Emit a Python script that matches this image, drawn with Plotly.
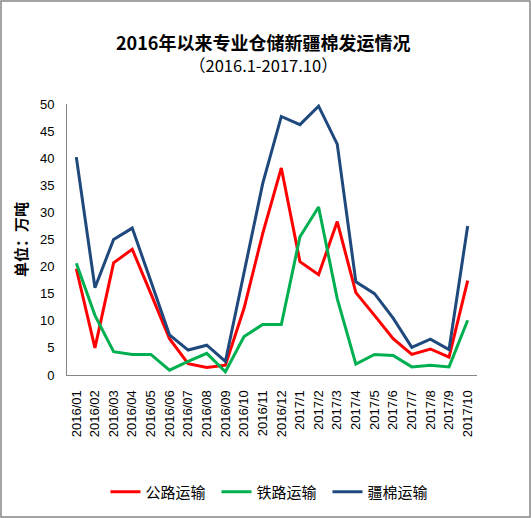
import plotly.graph_objects as go

categories = ["2016/01","2016/02","2016/03","2016/04","2016/05","2016/06","2016/07","2016/08",
              "2016/09","2016/10","2016/11","2016/12","2017/1","2017/2","2017/3","2017/4",
              "2017/5","2017/6","2017/7","2017/8","2017/9","2017/10"]
road = [19.6, 5.0, 20.7, 23.2, 15.0, 6.7, 2.1, 1.4, 1.8, 12.3, 26.1, 38.2,
        20.9, 18.5, 28.3, 15.2, 11.0, 6.7, 3.8, 4.8, 3.3, 17.4]
rail = [20.6, 11.0, 4.3, 3.8, 3.8, 0.9, 2.5, 4.0, 0.6, 7.1, 9.3, 9.3,
        25.5, 31.0, 14.1, 2.0, 3.8, 3.6, 1.5, 1.8, 1.5, 10.1]
total = [40.2, 16.1, 25.0, 27.1, 17.3, 7.4, 4.6, 5.5, 2.5, 19.0, 35.3, 47.7,
         46.2, 49.6, 42.6, 17.2, 15.0, 10.5, 5.1, 6.6, 4.7, 27.5]
series_names = ["公路运输", "铁路运输", "疆棉运输"]
colors = ["#FF0000", "#00B050", "#1F497D"]

W, H = 531, 518
L, R, T, B = 67, 54, 104, 143
pw, ph = W - L - R, H - T - B

def px_x(x):
    return (x - L) / pw

def px_y(y):
    return (H - B - y) / ph

fig = go.Figure()
for name, vals, c in zip(series_names, [road, rail, total], colors):
    fig.add_trace(go.Scatter(x=categories, y=vals, mode="lines", name=name,
                             line=dict(color=c, width=3)))

tick_font = dict(family="Liberation Sans, Arial", size=13, color="#000000")
cjk = "Noto Sans CJK SC"
fig.update_layout(
    width=W, height=H,
    margin=dict(l=L, r=R, t=T, b=B, autoexpand=False),
    paper_bgcolor="white", plot_bgcolor="white",
    showlegend=True,
    legend=dict(orientation="h", x=px_x(272), xanchor="center",
                y=px_y(492), yanchor="middle", bgcolor="rgba(0,0,0,0)",
                font=dict(family=cjk, size=15, color="#000"),
                itemwidth=30, entrywidth=66),
    xaxis=dict(type="category", tickangle=-90, tickfont=tick_font,
               showline=True, linecolor="#868686", linewidth=1, automargin=False,
               showgrid=False, ticks="outside", ticklen=9, tickcolor="rgba(0,0,0,0)",
               range=[-0.5, len(categories) - 0.5]),
    yaxis=dict(range=[0, 50], dtick=5, tickfont=tick_font, automargin=False,
               showline=True, linecolor="#868686", linewidth=1,
               showgrid=False, ticks="outside", ticklen=9, tickcolor="rgba(0,0,0,0)",
               zeroline=False),
    annotations=[
        dict(text="<b>2016年以来专业仓储新疆棉发运情况</b>", xref="paper", yref="paper",
             x=px_x(263), y=px_y(42), yanchor="middle", showarrow=False,
             font=dict(family=cjk, size=18, color="#000")),
        dict(text="（2016.1-2017.10）", xref="paper", yref="paper",
             x=px_x(263), y=px_y(65), yanchor="middle", showarrow=False,
             font=dict(family=cjk, size=16.5, color="#000")),
        dict(text="<b>单位：万吨</b>", xref="paper", yref="paper", textangle=-90,
             x=px_x(20), y=px_y(240), xanchor="center", yanchor="middle", showarrow=False,
             font=dict(family=cjk, size=15, color="#000")),
    ],
    shapes=[dict(type="rect", xref="paper", yref="paper",
                 x0=px_x(1), x1=px_x(W - 1),
                 y0=px_y(H - 1), y1=px_y(1),
                 line=dict(color="#868686", width=1.5))],
)
fig.write_html("out.html", config={"displayModeBar": False},
               post_script="document.body.style.margin='0';document.body.style.overflow='hidden';")
